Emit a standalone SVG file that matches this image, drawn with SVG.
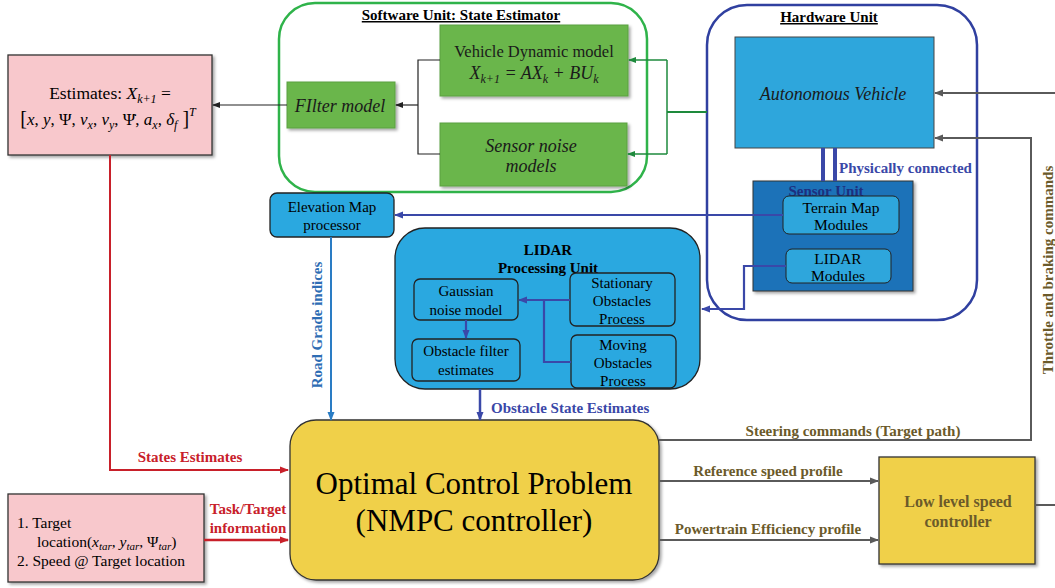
<svg xmlns="http://www.w3.org/2000/svg" width="1055" height="588" viewBox="0 0 1055 588">
<defs>
<filter id="sh" x="-10%" y="-10%" width="130%" height="130%"><feDropShadow dx="2" dy="2" stdDeviation="1.5" flood-color="#000" flood-opacity="0.35"/></filter>
<marker id="ak" markerWidth="8" markerHeight="8" refX="7" refY="4" orient="auto" markerUnits="userSpaceOnUse"><path d="M0,1 L8,4 L0,7 Z" fill="#222"/></marker>
<marker id="ag" markerWidth="8" markerHeight="8" refX="7" refY="4" orient="auto" markerUnits="userSpaceOnUse"><path d="M0,1 L8,4 L0,7 Z" fill="#1e8a3c"/></marker>
<marker id="ab" markerWidth="9" markerHeight="9" refX="8" refY="4.5" orient="auto" markerUnits="userSpaceOnUse"><path d="M0,1 L9,4.5 L0,8 Z" fill="#3a48a8"/></marker>
<marker id="al" markerWidth="9" markerHeight="9" refX="8" refY="4.5" orient="auto" markerUnits="userSpaceOnUse"><path d="M0,1 L9,4.5 L0,8 Z" fill="#2a7cc4"/></marker>
<marker id="ar" markerWidth="9" markerHeight="9" refX="8" refY="4.5" orient="auto" markerUnits="userSpaceOnUse"><path d="M0,1 L9,4.5 L0,8 Z" fill="#c8202a"/></marker>
<marker id="ay" markerWidth="9" markerHeight="9" refX="8" refY="4.5" orient="auto" markerUnits="userSpaceOnUse"><path d="M0,1 L9,4.5 L0,8 Z" fill="#5a5a5a"/></marker>
</defs>
<style>
text{font-family:"Liberation Serif",serif;}
.c{text-anchor:middle;}
.it{font-style:italic;}
.b{font-weight:bold;}
.pink{fill:#f8c8cc;stroke:#333;stroke-width:1.3;}
.grn{fill:#6bb64b;stroke:#5aa040;stroke-width:1;}
.blu{fill:#2aa8e0;stroke:#222;stroke-width:1.3;}
.yel{fill:#f0d04a;stroke:#333;stroke-width:1.3;}
.lab{font-size:15px;font-weight:bold;}
.nt{font-size:15px;}
.gray{stroke:#5a5a5a;stroke-width:2;fill:none;}
</style>

<g id="software-unit">
<rect x="279" y="3" width="368" height="189" rx="36" fill="#fff" stroke="#2fb34a" stroke-width="2.5"/>
<text x="461" y="20" class="c b" font-size="15" text-decoration="underline">Software Unit: State Estimator</text>
</g>

<g id="hardware-unit">
<rect x="707" y="5" width="270" height="315" rx="40" fill="#fff" stroke="#3040a0" stroke-width="2.5"/>
<text x="829" y="22" class="c b" font-size="15" text-decoration="underline">Hardware Unit</text>
</g>

<g id="estimates">
<rect x="8" y="55" width="204" height="100" class="pink" filter="url(#sh)"/>
<text x="110" y="99" class="c" font-size="17.5">Estimates: <tspan class="it">X</tspan><tspan class="it" font-size="12" dy="4">k+1</tspan><tspan dy="-4"> =</tspan></text>
<text x="108" y="125" class="c" font-size="17"><tspan font-size="20">[</tspan><tspan class="it">x</tspan>, <tspan class="it">y</tspan>, Ψ, <tspan class="it">v</tspan><tspan class="it" font-size="12" dy="4">x</tspan><tspan dy="-4">, </tspan><tspan class="it">v</tspan><tspan class="it" font-size="12" dy="4">y</tspan><tspan dy="-4">, Ψ̇, </tspan><tspan class="it">a</tspan><tspan class="it" font-size="12" dy="4">x</tspan><tspan dy="-4">, </tspan><tspan class="it">δ</tspan><tspan class="it" font-size="12" dy="4">f</tspan><tspan dy="-4" font-size="20"> ]</tspan><tspan class="it" font-size="12" dy="-9">T</tspan></text>
</g>

<g id="vehicle-dynamic-model">
<rect x="440" y="25" width="188" height="71" class="grn" filter="url(#sh)"/>
<text x="534" y="57" class="c" font-size="16.5" fill="#1a1a1a">Vehicle Dynamic model</text>
<text x="534" y="79" class="c it" font-size="18" fill="#1a1a1a">X<tspan font-size="12" dy="4">k+1</tspan><tspan dy="-4"> = AX</tspan><tspan font-size="12" dy="4">k</tspan><tspan dy="-4"> + BU</tspan><tspan font-size="12" dy="4">k</tspan></text>
</g>

<g id="filter-model">
<rect x="287" y="82" width="108" height="46" class="grn" filter="url(#sh)"/>
<text x="340" y="112" class="c it" font-size="18" fill="#1a1a1a">FIlter model</text>
</g>

<g id="sensor-noise-models">
<rect x="440" y="123" width="187" height="63" class="grn" filter="url(#sh)"/>
<text x="531" y="152" class="c it" font-size="18" fill="#1a1a1a">Sensor noise</text>
<text x="531" y="172" class="c it" font-size="18" fill="#1a1a1a">models</text>
</g>

<g id="autonomous-vehicle">
<rect x="735" y="37" width="199" height="111" fill="#2ea6dc" stroke="#444" stroke-width="1"/>
<text x="833" y="100" class="c it" font-size="18" fill="#1a1a1a">Autonomous Vehicle</text>
</g>

<g id="sensor-unit">
<rect x="753" y="181" width="160" height="110" fill="#1f72b8" stroke="#333" stroke-width="1" filter="url(#sh)"/>
<text x="826" y="196" class="c b" font-size="15" fill="#1d2f80">Sensor Unit</text>
</g>

<g id="terrain-map-modules">
<rect x="783" y="196" width="116" height="38" rx="6" fill="#2ea6dc" stroke="#222" stroke-width="1"/>
<text x="841" y="213" class="c" font-size="15.5">Terrain Map</text>
<text x="841" y="230" class="c" font-size="15.5">Modules</text>
</g>

<g id="lidar-modules">
<rect x="786" y="249" width="105" height="34" rx="6" fill="#2ea6dc" stroke="#222" stroke-width="1"/>
<text x="838" y="264" class="c" font-size="15.5">LIDAR</text>
<text x="838" y="281" class="c" font-size="15.5">Modules</text>
</g>

<g id="elevation-map-processor">
<rect x="270" y="193" width="124" height="44" rx="7" class="blu"/>
<text x="332" y="212" class="c nt">Elevation Map</text>
<text x="332" y="230" class="c nt">processor</text>
</g>

<g id="lidar-processing-unit">
<rect x="395" y="228" width="305" height="161" rx="30" class="blu"/>
<text x="548" y="255" class="c b" font-size="15">LIDAR</text>
<text x="548" y="273" class="c b" font-size="15">Processing Unit</text>
</g>

<g id="gaussian-noise-model">
<rect x="414" y="279" width="104" height="41" rx="6" class="blu"/>
<text x="466" y="296" class="c nt">Gaussian</text>
<text x="466" y="315" class="c nt">noise model</text>
</g>

<g id="obstacle-filter-estimates">
<rect x="412" y="339" width="108" height="42" rx="6" class="blu"/>
<text x="466" y="356" class="c nt">Obstacle filter</text>
<text x="466" y="375" class="c nt">estimates</text>
</g>

<g id="stationary-obstacles">
<rect x="570" y="273" width="105" height="53" rx="6" class="blu"/>
<text x="622" y="288" class="c nt">Stationary</text>
<text x="622" y="306" class="c nt">Obstacles</text>
<text x="622" y="324" class="c nt">Process</text>
</g>

<g id="moving-obstacles">
<rect x="571" y="335" width="105" height="53" rx="6" class="blu"/>
<text x="623" y="350" class="c nt">Moving</text>
<text x="623" y="368" class="c nt">Obstacles</text>
<text x="623" y="386" class="c nt">Process</text>
</g>

<g id="optimal-control-problem">
<rect x="290" y="420" width="369" height="160" rx="26" class="yel" filter="url(#sh)"/>
<text x="474" y="494" class="c" font-size="31">Optimal Control Problem</text>
<text x="474" y="531" class="c" font-size="31">(NMPC controller)</text>
</g>

<g id="target-info">
<rect x="8" y="494" width="196" height="88" class="pink" filter="url(#sh)"/>
<text x="17" y="528" font-size="15.5">1.  Target</text>
<text x="37" y="547" font-size="15.5">location(<tspan class="it">x</tspan><tspan class="it" font-size="11" dy="3">tar</tspan><tspan dy="-3">, </tspan><tspan class="it">y</tspan><tspan class="it" font-size="11" dy="3">tar</tspan><tspan dy="-3">, Ψ</tspan><tspan class="it" font-size="11" dy="3">tar</tspan><tspan dy="-3">)</tspan></text>
<text x="17" y="566" font-size="15.5">2.  Speed @ Target location</text>
</g>

<g id="low-level-speed-controller">
<rect x="879" y="457" width="156" height="107" class="yel" filter="url(#sh)"/>
<text x="958" y="507" class="c b" font-size="16" fill="#6b5a2a">Low level speed</text>
<text x="958" y="527" class="c b" font-size="16" fill="#6b5a2a">controller</text>
</g>

<g id="connectors">
<path d="M440,60 H418 V154 H440" fill="none" stroke="#222" stroke-width="1.2"/>
<line x1="418" y1="105" x2="396" y2="105" stroke="#222" stroke-width="1.2" marker-end="url(#ak)"/>
<line x1="287" y1="105" x2="213" y2="105" stroke="#222" stroke-width="1.2" marker-end="url(#ak)"/>
<path d="M707,112 H667" fill="none" stroke="#1e8a3c" stroke-width="2"/>
<path d="M667,60 V154" fill="none" stroke="#1e8a3c" stroke-width="1.5"/>
<line x1="667" y1="60" x2="629" y2="60" stroke="#1e8a3c" stroke-width="1.5" marker-end="url(#ag)"/>
<line x1="667" y1="154" x2="628" y2="154" stroke="#1e8a3c" stroke-width="1.5" marker-end="url(#ag)"/>
<line x1="823" y1="148" x2="823" y2="181" stroke="#3a48a8" stroke-width="4"/>
<line x1="835" y1="148" x2="835" y2="181" stroke="#3a48a8" stroke-width="4"/>
<text x="839" y="173" class="lab" fill="#3a48a8">Physically connected</text>
<line x1="783" y1="215" x2="395" y2="215" stroke="#3a48a8" stroke-width="2.2" marker-end="url(#ab)"/>
<path d="M786,266 H744 V309 H702" fill="none" stroke="#3a48a8" stroke-width="2.2" marker-end="url(#ab)"/>
<line x1="570" y1="300" x2="519" y2="300" stroke="#3a48a8" stroke-width="2.2" marker-end="url(#ab)"/>
<path d="M544,300 V362 H571" fill="none" stroke="#3a48a8" stroke-width="2.2"/>
<line x1="466" y1="320" x2="466" y2="338" stroke="#3a48a8" stroke-width="2.2" marker-end="url(#ab)"/>
<line x1="480" y1="389" x2="480" y2="420" stroke="#3a48a8" stroke-width="2.5" marker-end="url(#ab)"/>
<text x="491" y="413" class="lab" fill="#3a48a8">Obstacle State Estimates</text>
<line x1="331" y1="237" x2="331" y2="420" stroke="#2a7cc4" stroke-width="2" marker-end="url(#al)"/>
<text transform="translate(322,325) rotate(-90)" class="lab c" fill="#2e6db4">Road Grade indices</text>
<path d="M110,155 V470 H288" fill="none" stroke="#c8202a" stroke-width="2" marker-end="url(#ar)"/>
<text x="190" y="462" class="lab c" fill="#c8202a">States Estimates</text>
<line x1="204" y1="540" x2="288" y2="540" stroke="#c8202a" stroke-width="2.5" marker-end="url(#ar)"/>
<text x="248" y="514" class="lab c" fill="#c8202a">Task/Target</text>
<text x="248" y="533" class="lab c" fill="#c8202a">information</text>
<path d="M659,440 H1031 V138 H935" class="gray" marker-end="url(#ay)"/>
<text x="853" y="436" class="lab c" fill="#6b5a2a">Steering commands (Target path)</text>
<line x1="1055" y1="93" x2="935" y2="93" class="gray" marker-end="url(#ay)"/>
<line x1="1036" y1="505" x2="1055" y2="505" class="gray"/>
<text transform="translate(1053,270) rotate(-90)" class="lab c" fill="#6b5a2a">Throttle and braking commands</text>
<line x1="659" y1="481" x2="878" y2="481" class="gray" marker-end="url(#ay)"/>
<text x="768" y="476" class="lab c" fill="#6b5a2a">Reference speed profile</text>
<line x1="659" y1="540" x2="878" y2="540" class="gray" marker-end="url(#ay)"/>
<text x="768" y="534" class="lab c" fill="#6b5a2a">Powertrain Efficiency profile</text>
</g>
</svg>
